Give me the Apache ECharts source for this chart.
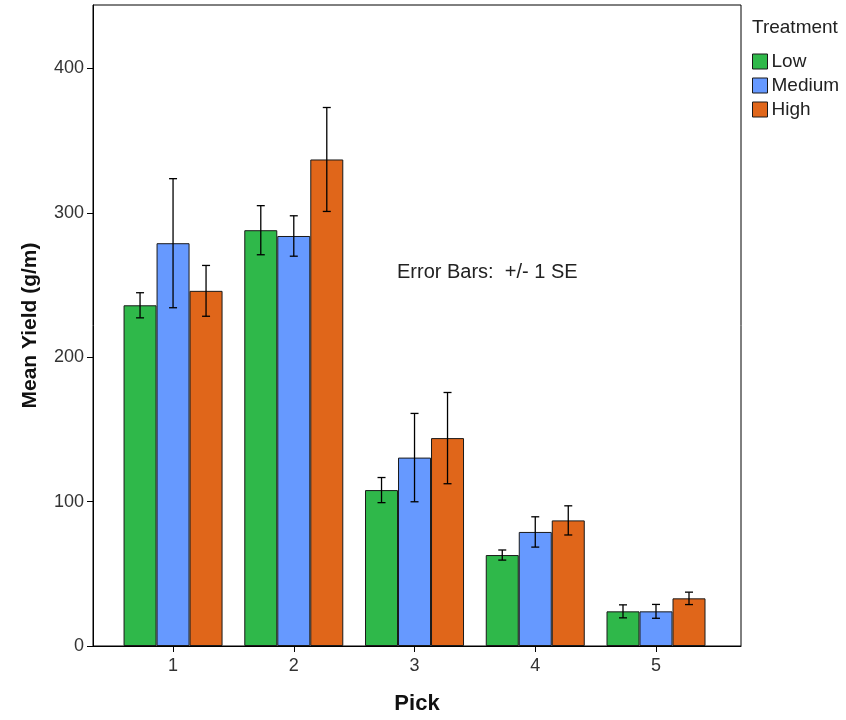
<!DOCTYPE html>
<html>
<head>
<meta charset="utf-8">
<script src="https://cdn.jsdelivr.net/npm/echarts@6/dist/echarts.min.js"></script>
<style>html,body{margin:0;padding:0;background:#fff}#c{width:846px;height:720px}</style>
</head>
<body>
<div id="c"></div>
<script>
const picks = [1, 2, 3, 4, 5];
const pickLabels = ['1', '2', '3', '4', '5'];
const lowMean = [236, 288, 108, 63, 24];
const lowSE = [8.7, 17, 8.7, 3.5, 4.5];
const medMean = [279, 284, 130.5, 79, 24];
const medSE = [44.7, 14, 30.6, 10.5, 4.8];
const highMean = [246, 337, 144, 87, 33];
const highSE = [17.6, 36, 31.6, 10.1, 4.3];
const yTicks = [0, 100, 200, 300, 400];
const treatments = ['Low', 'Medium', 'High'];

const colors = ['#2fb84a', '#6699ff', '#e0661a'];
const BAR_W = 33;
const FONT = '"Liberation Sans", Arial, sans-serif';

const means = [lowMean, medMean, highMean];
const ses = [lowSE, medSE, highSE];

const barSeries = treatments.map((name, k) => ({
  name: name,
  type: 'bar',
  barWidth: BAR_W,
  barGap: '0%',
  data: picks.map((p, i) => [p, means[k][i]]),
  itemStyle: { color: colors[k], borderColor: '#1a1a1a', borderWidth: 1 },
  emphasis: { disabled: true },
  z: 2
}));

const errSeries = treatments.map((name, k) => ({
  type: 'custom',
  name: name + ' SE',
  data: picks.map((p, i) => [p, means[k][i] - ses[k][i], means[k][i] + ses[k][i]]),
  renderItem: function (params, api) {
    const x = api.value(0);
    const top = api.coord([x, api.value(2)]);
    const bot = api.coord([x, api.value(1)]);
    const cx = top[0] + (k - 1) * BAR_W;
    const hw = 4;
    const st = { stroke: '#000', lineWidth: 1.3 };
    return {
      type: 'group',
      children: [
        { type: 'line', shape: { x1: cx, y1: top[1], x2: cx, y2: bot[1] }, style: st },
        { type: 'line', shape: { x1: cx - hw, y1: top[1], x2: cx + hw, y2: top[1] }, style: st },
        { type: 'line', shape: { x1: cx - hw, y1: bot[1], x2: cx + hw, y2: bot[1] }, style: st }
      ]
    };
  },
  z: 5,
  silent: true
}));

const chart = echarts.init(document.getElementById('c'), null, { renderer: 'canvas' });
chart.setOption({
  animation: false,
  textStyle: { fontFamily: FONT },
  title: {
    text: 'Treatment',
    left: 752, top: 18,
    padding: 0,
    textStyle: { fontFamily: FONT, fontSize: 19, fontWeight: 'normal', color: '#222' }
  },
  legend: {
    data: treatments,
    orient: 'vertical',
    left: 752, top: 52,
    padding: 0,
    itemWidth: 15, itemHeight: 15, itemGap: 5,
    icon: 'rect',
    itemStyle: { borderColor: '#1a1a1a', borderWidth: 1 },
    textStyle: { fontFamily: FONT, fontSize: 19, color: '#222', padding: [0, 0, 0, -1] },
    selectedMode: false
  },
  grid: {
    left: 93, top: 5, right: 105, bottom: 71,
    show: true, borderColor: '#000', borderWidth: 1, backgroundColor: 'transparent'
  },
  xAxis: {
    type: 'value',
    min: 0.337, max: 5.704,
    name: 'Pick',
    nameLocation: 'middle',
    nameGap: 47,
    nameTextStyle: { fontFamily: FONT, fontSize: 22, fontWeight: 'bold', color: '#111' },
    axisLine: { show: true, onZero: false, lineStyle: { color: '#000', width: 1 } },
    axisTick: { show: true, length: 6, customValues: picks, lineStyle: { color: '#000' } },
    axisLabel: {
      customValues: picks,
      formatter: v => pickLabels[picks.indexOf(v)],
      fontFamily: FONT, fontSize: 18, color: '#333', margin: 11
    },
    splitLine: { show: false }
  },
  yAxis: {
    type: 'value',
    min: 0, max: 444,
    name: 'Mean Yield (g/m)',
    nameLocation: 'middle',
    nameGap: 52,
    nameRotate: 90,
    nameTextStyle: { fontFamily: FONT, fontSize: 21, fontWeight: 'bold', color: '#111' },
    axisLine: { show: true, lineStyle: { color: '#000', width: 1 } },
    axisTick: { show: true, length: 6, customValues: yTicks, lineStyle: { color: '#000' } },
    axisLabel: { customValues: yTicks, fontFamily: FONT, fontSize: 18, color: '#333', margin: 9 },
    splitLine: { show: false }
  },
  graphic: [{
    type: 'text',
    left: 397, top: 262,
    style: { text: 'Error Bars:  +/- 1 SE', font: '20px ' + FONT, fill: '#222' }
  }],
  series: barSeries.concat(errSeries)
});
</script>
</body>
</html>
